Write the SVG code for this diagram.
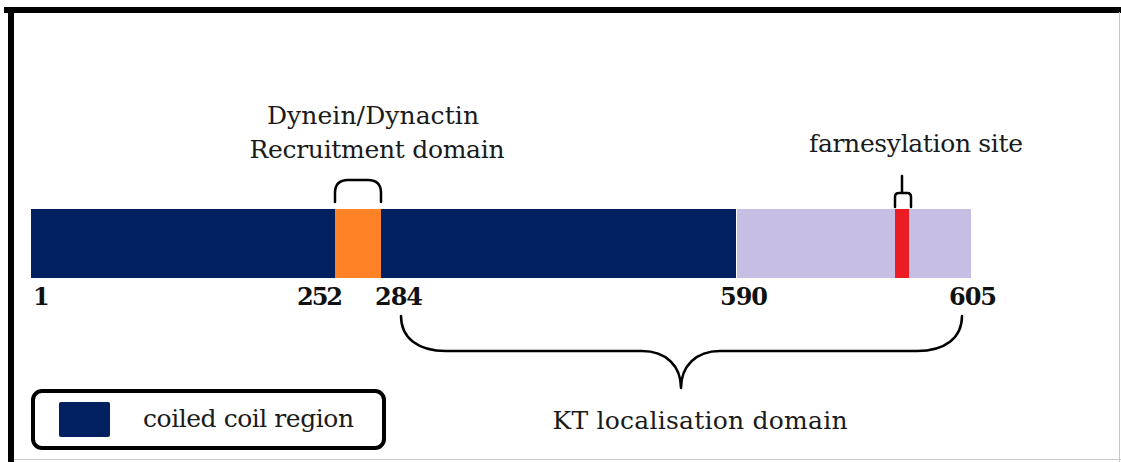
<svg xmlns="http://www.w3.org/2000/svg" width="1121" height="462" viewBox="0 0 1121 462">
  <style>
    .lbl { font-family: "DejaVu Serif", "Liberation Serif", serif; font-size: 25px; fill: #1a1a1a; }
    .num { font-family: "DejaVu Serif", "Liberation Serif", serif; font-size: 24px; font-weight: bold; fill: #111; }
    .br { fill: none; stroke: #000; stroke-width: 2.5; stroke-linecap: round; stroke-linejoin: round; }
  </style>
  <rect width="1121" height="462" fill="#fff"/>
  <g id="frame">
    <rect x="4" y="7" width="1117" height="6" fill="#000"/>
    <rect x="8" y="7" width="6" height="455" fill="#000"/>
    <line x1="1119.5" y1="12" x2="1119.5" y2="462" stroke="#c8c8c8" stroke-width="1"/>
    <line x1="14" y1="459.5" x2="1121" y2="459.5" stroke="#c8c8c8" stroke-width="1"/>
  </g>
  <g id="protein-bar">
    <rect x="31" y="209" width="705" height="69" fill="#002060"/>
    <rect x="737" y="209" width="234" height="69" fill="#C6BFE3"/>
    <rect id="dynein-region" x="335" y="209" width="46" height="69" fill="#FF8227"/>
    <rect id="farnesylation-region" x="895" y="209" width="14" height="69" fill="#EC1C24"/>
  </g>
  <g id="numbers">
    <text class="num" x="33" y="305" textLength="13">1</text>
    <text class="num" x="297" y="305" textLength="46">252</text>
    <text class="num" x="375" y="305" textLength="48">284</text>
    <text class="num" x="720" y="305" textLength="48">590</text>
    <text class="num" x="949" y="305" textLength="48">605</text>
  </g>
  <g id="connectors">
    <path class="br" d="M335,202 L335,193 Q335,180 348,180 L368,180 Q381,180 381,193 L381,202"/>
    <path class="br" d="M895,207 L895,197 Q895,193 899,193 L907,193 Q911,193 911,197 L911,207 M902,193 L902,176"/>
    <path class="br" d="M401,316 C401,338 418,351 446,351 L642,351 C666,351 681,366 681,388 C681,366 696,351 720,351 L917,351 C945,351 962,338 962,316"/>
  </g>
  <g id="label-dynein">
    <text class="lbl" x="373" y="124" text-anchor="middle" textLength="212">Dynein/Dynactin</text>
    <text class="lbl" x="377" y="158" text-anchor="middle" textLength="255">Recruitment domain</text>
  </g>
  <g id="label-farnesylation">
    <text class="lbl" x="916" y="152" text-anchor="middle" textLength="214">farnesylation site</text>
  </g>
  <g id="label-kt">
    <text class="lbl" x="700" y="429" text-anchor="middle" textLength="295">KT localisation domain</text>
  </g>
  <g id="legend">
    <rect x="33" y="391" width="351" height="57" rx="9" fill="#fff" stroke="#000" stroke-width="4"/>
    <rect x="59" y="402" width="51" height="35" rx="2" fill="#002060"/>
    <text class="lbl" x="143" y="427" textLength="211">coiled coil region</text>
  </g>
</svg>
